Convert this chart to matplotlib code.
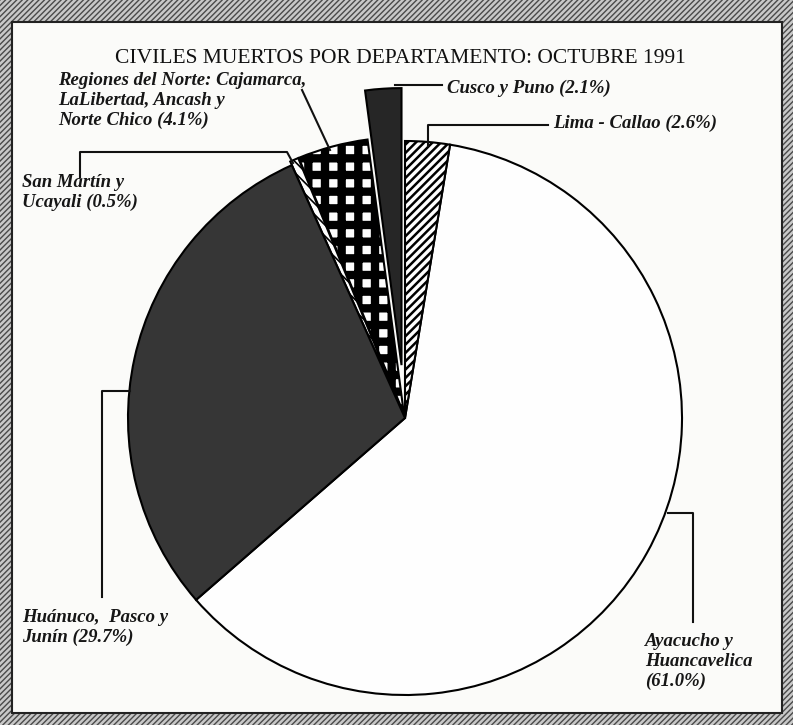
import matplotlib
matplotlib.use('Agg')
import matplotlib.pyplot as plt
from matplotlib.patches import Rectangle

W, H = 793, 725

title = 'CIVILES MUERTOS POR DEPARTAMENTO: OCTUBRE 1991'
regions = ['Ayacucho y\nHuancavelica\n(61.0%)',
           'Lima - Callao (2.6%)',
           'Cusco y Puno (2.1%)',
           'Regiones del Norte: Cajamarca,\nLaLibertad, Ancash y\nNorte Chico (4.1%)',
           'San Martín y\nUcayali (0.5%)',
           'Huánuco,  Pasco y\nJunín (29.7%)']
shares = [61.0, 2.6, 2.1, 4.1, 0.5, 29.7]

# styling of each slice (pie explode is in data units = pixels here)
explode = [0, 0, 53, 4, 4, 0]
faces = ['#fefefe', '#fefefe', '#262626', '#fefefe', '#fefefe', '#363636']
hatches = [None, '////', None, '+', '\\\\\\', None]
hatch_lw = [1, 1.8, 1, 6, 1.2, 1]

# label text top-left corner and leader lines, in pixels (y down)
label_xy = [(645, 633), (553, 115), (447, 80), (58, 72), (22, 174), (22, 609)]
leaders = [[(668, 513), (693, 513), (693, 622)],
           [(428, 146), (428, 125), (548, 125)],
           [(395, 85), (442, 85)],
           [(302, 90), (330, 150)],
           [(80, 177), (80, 152), (287, 152), (293, 163)],
           [(102, 597), (102, 391), (130, 391)]]


def py(y):
    return H - y


fig = plt.figure(figsize=(W / 100, H / 100), dpi=100)
ax = fig.add_axes([0, 0, 1, 1])

# scanned page frame
ax.add_patch(Rectangle((0, 0), W, H, facecolor='#c8c8c8', edgecolor='#4a4a4a',
                       hatch='//////', linewidth=0, zorder=0))
ax.add_patch(Rectangle((12, py(713)), 770, 691, facecolor='#fbfbf9',
                       edgecolor='#222222', linewidth=1.5, zorder=0.5))

# Ayacucho starts so that Lima ends at 12 o'clock
start = 90 - 3.6 * (shares[0] + shares[1])
wedges, _ = ax.pie(shares, explode=explode, startangle=start, radius=277,
                   center=(405, py(418)), colors=faces, frame=True,
                   wedgeprops=dict(edgecolor='black', linewidth=1.5))
for w, h, lw in zip(wedges, hatches, hatch_lw):
    if h:
        w.set_hatch(h)
        if hasattr(w, 'set_hatch_linewidth'):
            w.set_hatch_linewidth(lw)

ax.text(400, py(58), title, ha='center', va='center', fontsize=15.5,
        family='Liberation Serif', color='#111111')

for txt, (x, y), pts in zip(regions, label_xy, leaders):
    ax.text(x, py(y), txt, ha='left', va='top', fontsize=13.5, style='italic',
            weight='bold', family='Liberation Serif', color='#161616',
            linespacing=1.22)
    ax.plot([p[0] for p in pts], [py(p[1]) for p in pts], color='#111111', lw=1.5)

ax.set_xlim(0, W)
ax.set_ylim(0, H)
ax.set_aspect('equal')
ax.axis('off')

fig.savefig('out.png', dpi=100)
